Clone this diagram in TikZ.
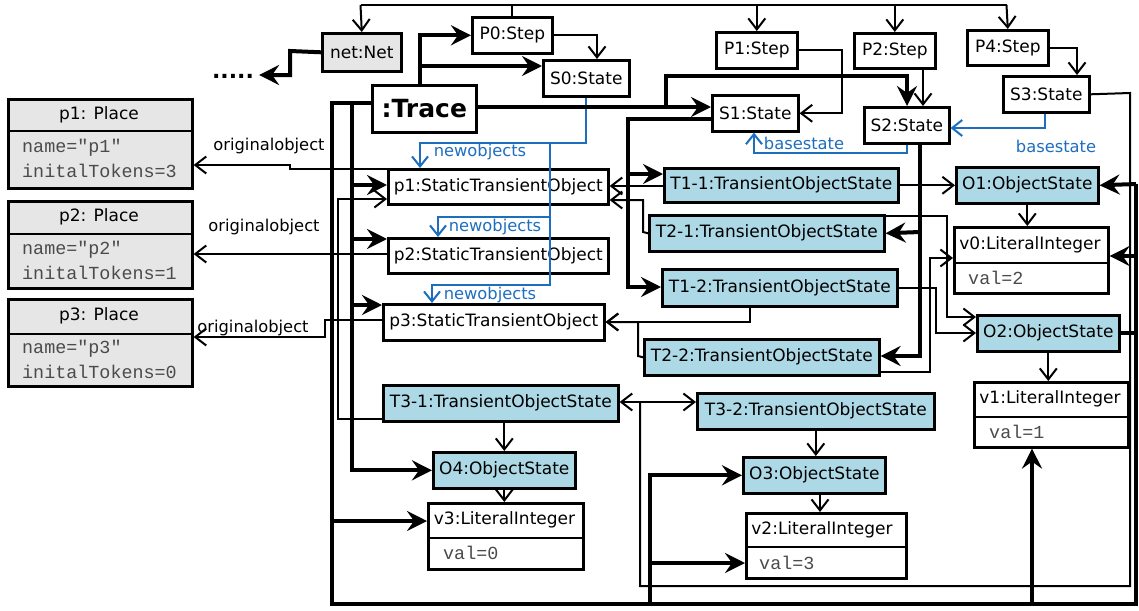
\documentclass[tikz,border=0pt]{standalone}
\usepackage{fontspec}
\setmainfont{DejaVu Sans}
\newfontfamily\monofont{Liberation Mono}
\usetikzlibrary{arrows.meta}
\definecolor{tosblue}{RGB}{173,216,230}
\definecolor{placegray}{RGB}{230,230,230}
\definecolor{linkblue}{RGB}{30,110,190}
\definecolor{attrgray}{RGB}{75,75,75}
\begin{document}
\begin{tikzpicture}[x=1pt,y=-1pt,
  box/.style={draw, line width=2.6pt, inner sep=0pt, anchor=north west, fill=white, font=\fontsize{17}{20}\selectfont},
  tos/.style={box, fill=tosblue},
  gbox/.style={box, fill=placegray},
  lbl/.style={inner sep=0pt, font=\fontsize{17}{20}\selectfont},
  attr/.style={inner sep=0pt, anchor=west, font=\monofont\fontsize{18.4}{20}\selectfont, text=attrgray},
  ln/.style={line width=2pt},
  lnk/.style={ln, -{Straight Barb[length=11pt,width=17pt]}},
  tk/.style={line width=4pt},
  tka/.style={tk, -{Stealth[length=20pt,width=20pt,inset=7pt]}},
  bl/.style={line width=2pt, draw=linkblue, -{Straight Barb[length=10pt,width=16pt]}},
  blab/.style={text=linkblue, inner sep=0pt, font=\fontsize{16.3}{18}\selectfont},
  olab/.style={inner sep=0pt, font=\fontsize{16.3}{19}\selectfont},
  divl/.style={line width=2.6pt}
]
\useasboundingbox (0,0) rectangle (1139,610);

% ---------- nodes ----------
\node[gbox, minimum width=79pt, minimum height=38pt] (net) at (321,32) {net:Net};
\node[inner sep=0pt, font=\bfseries\fontsize{22}{22}\selectfont] (dots) at (233,76) {.....};
\node[box, minimum width=80pt, minimum height=36pt] (p0) at (471,16) {P0:Step};
\node[box, minimum width=86pt, minimum height=36pt] (s0) at (542,59) {S0:State};
\node[box, minimum width=104pt, minimum height=47pt, font=\bfseries\fontsize{25}{28}\selectfont] (trace) at (371,84) {:Trace};
\node[box, minimum width=81pt, minimum height=36pt] (p1s) at (715,31) {P1:Step};
\node[box, minimum width=81pt, minimum height=35pt] (p2s) at (853,32) {P2:Step};
\node[box, minimum width=81pt, minimum height=35pt] (p4s) at (966,29) {P4:Step};
\node[box, minimum width=86pt, minimum height=36pt] (s1) at (711,94) {S1:State};
\node[box, minimum width=85pt, minimum height=36pt] (s2) at (863,106) {S2:State};
\node[box, minimum width=86pt, minimum height=36pt] (s3) at (1002,75) {S3:State};

% places
\node[gbox, minimum width=184pt, minimum height=89pt] (pl1) at (7,98) {};
\draw[divl] (pl1.west |- 0,131) -- (pl1.east |- 0,131);
\node[lbl] (pl1h) at (99,115) {p1: Place};
\node[attr] (pl1a) at (22,148) {name="p1"};
\node[attr] (pl1b) at (22,171) {initalTokens=3};
\node[gbox, minimum width=184pt, minimum height=87pt] (pl2) at (7,200) {};
\draw[divl] (pl2.west |- 0,234) -- (pl2.east |- 0,234);
\node[lbl] (pl2h) at (99,217) {p2: Place};
\node[attr] (pl2a) at (22,250) {name="p2"};
\node[attr] (pl2b) at (22,273) {initalTokens=1};
\node[gbox, minimum width=184pt, minimum height=87pt] (pl3) at (7,298) {};
\draw[divl] (pl3.west |- 0,334) -- (pl3.east |- 0,334);
\node[lbl] (pl3h) at (99,316) {p3: Place};
\node[attr] (pl3a) at (22,349) {name="p3"};
\node[attr] (pl3b) at (22,372) {initalTokens=0};

% static transient objects
\node[box, minimum width=220pt, minimum height=35pt] (sto1) at (387,168) {p1:StaticTransientObject};
\node[box, minimum width=220pt, minimum height=35pt] (sto2) at (387,237) {p2:StaticTransientObject};
\node[box, minimum width=221pt, minimum height=36pt] (sto3) at (382,303) {p3:StaticTransientObject};

% transient object states
\node[tos, minimum width=234pt, minimum height=34pt] (t11) at (663,167) {T1-1:TransientObjectState};
\node[tos, minimum width=235pt, minimum height=36pt] (t21) at (648,214) {T2-1:TransientObjectState};
\node[tos, minimum width=235pt, minimum height=37pt] (t12) at (661,268) {T1-2:TransientObjectState};
\node[tos, minimum width=235pt, minimum height=36pt] (t22) at (643,338) {T2-2:TransientObjectState};
\node[tos, minimum width=235pt, minimum height=36pt] (t31) at (382,384) {T3-1:TransientObjectState};
\node[tos, minimum width=237pt, minimum height=36pt] (t32) at (696,392) {T3-2:TransientObjectState};

% object states
\node[tos, minimum width=142pt, minimum height=36pt] (o1) at (955,166) {O1:ObjectState};
\node[tos, minimum width=142pt, minimum height=36pt] (o2) at (976,314) {O2:ObjectState};
\node[tos, minimum width=142pt, minimum height=36pt] (o4) at (432,451) {O4:ObjectState};
\node[tos, minimum width=142pt, minimum height=36pt] (o3) at (742,456) {O3:ObjectState};

% literal integers
\node[box, minimum width=154pt, minimum height=66pt] (v0) at (953,226) {};
\draw[divl] (v0.west |- 0,263) -- (v0.east |- 0,263);
\node[lbl] (v0h) at (1030,245) {v0:LiteralInteger};
\node[attr] (v0a) at (968,278) {val=2};
\node[box, minimum width=154pt, minimum height=65pt] (v1) at (973,381) {};
\draw[divl] (v1.west |- 0,417) -- (v1.east |- 0,417);
\node[lbl] (v1h) at (1050,399) {v1:LiteralInteger};
\node[attr] (v1a) at (989,432) {val=1};
\node[box, minimum width=155pt, minimum height=66pt] (v3) at (427,502) {};
\draw[divl] (v3.west |- 0,538) -- (v3.east |- 0,538);
\node[lbl] (v3h) at (504.5,520) {v3:LiteralInteger};
\node[attr] (v3a) at (443,553) {val=0};
\node[box, minimum width=160pt, minimum height=65pt] (v2) at (745,512) {};
\draw[divl] (v2.west |- 0,547) -- (v2.east |- 0,547);
\node[lbl] (v2h) at (822,530) {v2:LiteralInteger};
\node[attr] (v2a) at (759,563) {val=3};

% ---------- connectors ----------
% top bus from P0
\coordinate (busL) at (360.5,5);
\coordinate (busR) at (1006.5,5);
\draw[ln] (busL) -- (busR);
\draw[ln] (p0.north) -- (p0.north |- busL);
\draw[lnk] (busL) -- (net.north);
\draw[lnk] (p1s.north |- busL) -- (p1s.north);
\draw[lnk] (p2s.north |- busL) -- (p2s.north);
\draw[lnk] (busR) -- (p4s.north);

% net -> dots
\draw[tka] (net.west) -- (290,51) -- (290,75) -- ([xshift=5pt]dots.east |- 0,75);

% steps -> states
\draw[lnk] (p0.east) -| (s0.north -| 597,0);
\draw[lnk] (p1s.east) -- (p1s.east -| 842,0) |- (s1.east);
\draw[lnk] (p2s.south -| 923,0) -- (s2.north -| 923,0);
\draw[lnk] (p4s.east) -| (s3.north -| 1077,0);

% basestate
\draw[bl] (s3.south -| 1045,0) |- (s2.east |- 0,128);
\node[blab] (bs1) at (1056,146) {basestate};
\draw[bl] (s2.south -| 907,0) -- (907,153) -| (s1.south -| 754,0);
\node[blab] (bs2) at (804,143) {basestate};

% newobjects
\draw[bl] (s0.south -| 586,0) -- (586,143) -| (sto1.north -| 420,0);
\draw[bl] (550,143) -- (550,285) -| (sto3.north -| 432,0);
\draw[bl] (550,217) -| (sto2.north -| 438,0);
\node[blab] (no1) at (480,152) {newobjects};
\node[blab] (no2) at (495,227) {newobjects};
\node[blab] (no3) at (490,295) {newobjects};

% trace top
\draw[tka] (trace.north -| 420,0) |- (p0.west);
\draw[tka] (420,66) -- (s0.west |- 0,66);
\draw[tka] (trace.east |- 0,107) -- (s1.west |- 0,107);
\draw[tka] (666,107) |- (907,76) -- (s2.north -| 907,0);

% trace left bus
\draw[tk] (trace.west |- 0,103) -- (332,103) -- (332,604) -- (1136,604) -- (1136,184);
\draw[tka] (352,103) |- (o4.west);
\draw[tka] (352,185) -- (sto1.west |- 0,185);
\draw[tka] (352,239) -- (sto2.west |- 0,239);
\draw[tka] (352,305) -- (sto3.west |- 0,305);
\draw[tka] (332,521) -- (v3.west |- 0,521);
\draw[tka] (650,604) |- (o3.west);
\draw[tka] (650,563) -- (v2.west |- 0,563);
\draw[tka] (1032,604) -- (v1.south -| 1032,0);
\draw[tka] (1136,184) -- (o1.east);
\draw[tka] (1136,256) -- (v0.east |- 0,256);
\draw[tk] (o2.east) -- (o2.east -| 1136,0);

% states -> transient object states
\draw[tka] (s1.west |- 0,119) -| (628,287) -- (t12.west |- 0,287);
\draw[tka] (628,174) -- (t11.west |- 0,174);
\draw[tka] (s2.south -| 920,0) |- (t22.east |- 0,356);
\draw[tka] (920,232) -- (t21.east);

% transient object states -> static objects
\draw[lnk] (t11.west |- 0,186) -- (sto1.east |- 0,186);
\draw[lnk] (t21.west) -- (643,232) |- (sto1.east |- 0,200);
\draw[lnk] (t12.south -| 750,0) |- (sto3.east |- 0,322);
\draw[lnk] (t22.west) -- (638,356) |- (sto3.east |- 0,322);

% transient object states -> object states / values
\draw[lnk] (t11.east) -- (o1.west);
\draw[lnk] (t21.east |- 0,216) -- (947,216) |- (o2.west |- 0,317);
\draw[lnk] (t12.east) -- (t12.east -| 936,0) |- (o2.west |- 0,333);
\draw[lnk] (t22.east |- 0,372) -- (930,372) |- (v0.west |- 0,258);
\draw[lnk] (o1.south) -- (v0.north -| o1.south);
\draw[lnk] (o2.south) -- (v1.north -| o2.south);
\draw[lnk] (o4.north |- t31.south) -- (o4.north);
\draw[lnk] (o4.south) -- (v3.north -| o4.south);
\draw[lnk] (t32.south) -- (o3.north -| t32.south);
\draw[lnk] (o3.south -| 820,0) -- (v2.north -| 820,0);

% S3 -> T3-1, T3-2
\draw[ln] (s3.east) -- (1130,93) -- (1130,586) -- (640,586) -- (640,402);
\draw[lnk] (640,402) -- (t31.east |- 0,402);
\draw[lnk] (640,402) -- (t32.west |- 0,402);

% T3-1 -> p1
\draw[lnk] (t31.west |- 0,419) -- (338,419) |- (sto1.west |- 0,199);

% originalobject
\draw[lnk] (sto1.west |- 0,169) -- (290,169) -- (290,165) -- (pl1.east |- 0,165);
\node[olab] (oo1) at (269,146) {originalobject};
\draw[lnk] (sto2.west |- 0,254) -- (pl2.east |- 0,254);
\node[olab] (oo2) at (264,227) {originalobject};
\draw[lnk] (sto3.west |- 0,320) -- (325,320) -- (325,337) -- (pl3.east |- 0,337);
\node[olab] (oo3) at (253,328) {originalobject};
\end{tikzpicture}
\end{document}
